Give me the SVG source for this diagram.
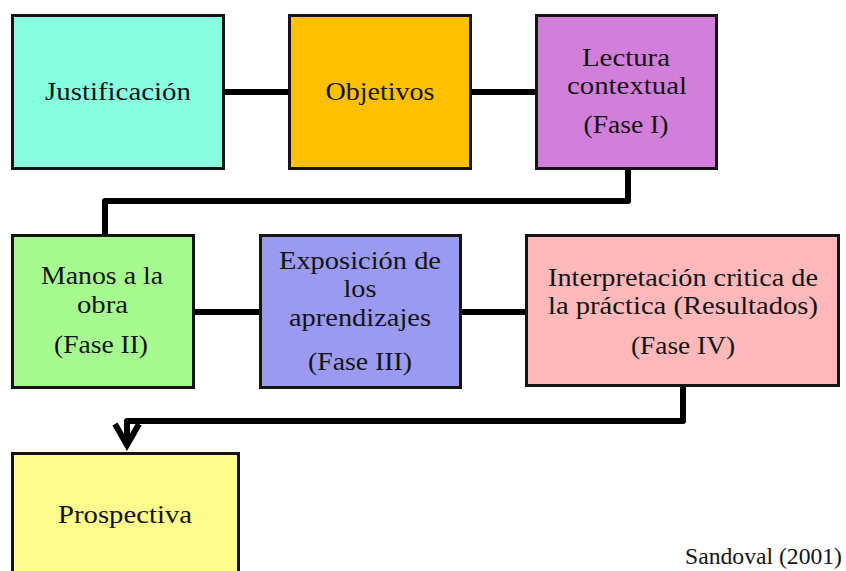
<svg xmlns="http://www.w3.org/2000/svg" width="846" height="571" viewBox="0 0 846 571">
<style>
.box{stroke:#141414;stroke-width:3}
.t{font-family:"Liberation Serif","Times New Roman",serif;font-size:25px;fill:#141414;text-anchor:middle}
.c{fill:none;stroke:#000;stroke-width:6;stroke-linejoin:round}
</style>
<defs>
<marker id="vhead" markerUnits="userSpaceOnUse" orient="auto" refX="0" refY="0" markerWidth="40" markerHeight="40" viewBox="-30 -20 40 40" overflow="visible">
<path d="M-21,-12 L0,0 L-21,12" fill="none" stroke="#000" stroke-width="6" stroke-linejoin="miter"/>
</marker>
</defs>
<rect width="846" height="571" fill="#fff"/>
<g id="connectors">
<line class="c" x1="225" y1="92" x2="288" y2="92"/>
<line class="c" x1="472" y1="92" x2="535" y2="92"/>
<path class="c" d="M628,170 V201 H105 V234"/>
<line class="c" x1="195" y1="312" x2="259" y2="312"/>
<line class="c" x1="462" y1="312" x2="525" y2="312"/>
<path class="c" d="M683,387 V421 H127 V445" marker-end="url(#vhead)"/>
</g>
<g id="justificacion">
<rect class="box" x="12.5" y="15.5" width="211" height="153" fill="#88FFDF"/>
<text class="t" x="118" y="100" textLength="146" lengthAdjust="spacingAndGlyphs">Justificación</text>
</g>
<g id="objetivos">
<rect class="box" x="289.5" y="15.5" width="181" height="153" fill="#FFC000"/>
<text class="t" x="380" y="100" textLength="109" lengthAdjust="spacingAndGlyphs">Objetivos</text>
</g>
<g id="lectura">
<rect class="box" x="536.5" y="15.5" width="180" height="153" fill="#D27FDB"/>
<text class="t" x="626" y="66" textLength="88" lengthAdjust="spacingAndGlyphs">Lectura</text>
<text class="t" x="627" y="94" textLength="120" lengthAdjust="spacingAndGlyphs">contextual</text>
<text class="t" x="626" y="133" textLength="85" lengthAdjust="spacingAndGlyphs">(Fase I)</text>
</g>
<g id="manos">
<rect class="box" x="12.5" y="235.5" width="181" height="152" fill="#A6FA90"/>
<text class="t" x="102" y="284" textLength="122" lengthAdjust="spacingAndGlyphs">Manos a la</text>
<text class="t" x="102.5" y="313" textLength="51" lengthAdjust="spacingAndGlyphs">obra</text>
<text class="t" x="101" y="353" textLength="94" lengthAdjust="spacingAndGlyphs">(Fase II)</text>
</g>
<g id="exposicion">
<rect class="box" x="260.5" y="235.5" width="200" height="152" fill="#9A9AF0"/>
<text class="t" x="360" y="269" textLength="162" lengthAdjust="spacingAndGlyphs">Exposición de</text>
<text class="t" x="360" y="297" textLength="33" lengthAdjust="spacingAndGlyphs">los</text>
<text class="t" x="360" y="326" textLength="142" lengthAdjust="spacingAndGlyphs">aprendizajes</text>
<text class="t" x="360" y="370" textLength="104" lengthAdjust="spacingAndGlyphs">(Fase III)</text>
</g>
<g id="interpretacion">
<rect class="box" x="526.5" y="235.5" width="312" height="150" fill="#FFB9BA"/>
<text class="t" x="683" y="286" textLength="270" lengthAdjust="spacingAndGlyphs">Interpretación critica de</text>
<text class="t" x="683" y="314" textLength="270" lengthAdjust="spacingAndGlyphs">la práctica (Resultados)</text>
<text class="t" x="683" y="354" textLength="104" lengthAdjust="spacingAndGlyphs">(Fase IV)</text>
</g>
<g id="prospectiva">
<rect class="box" x="12.5" y="453.5" width="226" height="150" fill="#FFFB8C"/>
<text class="t" x="125" y="523" textLength="134" lengthAdjust="spacingAndGlyphs">Prospectiva</text>
</g>
<text class="t" x="685" y="564" style="text-anchor:start;font-size:23px" textLength="157" lengthAdjust="spacingAndGlyphs">Sandoval (2001)</text>
</svg>
